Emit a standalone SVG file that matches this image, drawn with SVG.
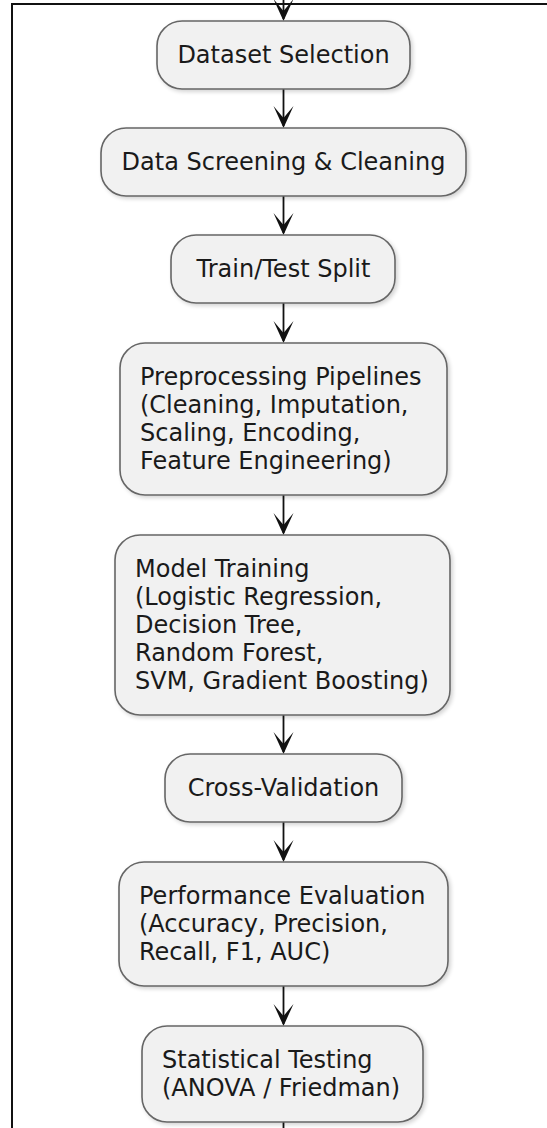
<svg xmlns="http://www.w3.org/2000/svg" width="547" height="1128" viewBox="0 0 547 1128">
<style>
.node rect{fill:#F1F1F1;stroke:#666666;stroke-width:1.6}
.node text{font-family:"DejaVu Sans","Liberation Sans",sans-serif;font-size:24px;fill:#1a1a1a}
.c{text-anchor:middle}
.edge line{stroke:#111111;stroke-width:1.8}
.frame{fill:none;stroke:#111111;stroke-width:2}
</style>
<defs>
<filter id="sh" x="-10%" y="-10%" width="125%" height="125%">
<feGaussianBlur in="SourceAlpha" stdDeviation="2"/>
<feOffset dx="2" dy="2" result="b"/>
<feComponentTransfer><feFuncA type="linear" slope="0.18"/></feComponentTransfer>
<feMerge><feMergeNode/><feMergeNode in="SourceGraphic"/></feMerge>
</filter>
<path id="ah" d="M-10,-22 L0,0 L10,-22 L0,-10 Z" fill="#111111"/>
</defs>
<rect x="0" y="0" width="547" height="1128" fill="#FFFFFF"/>
<path class="frame" d="M12,1128 V4 H547"/>
<g id="connectors" class="edge">
<line x1="283.5" y1="0" x2="283.5" y2="19"/><use href="#ah" x="283.5" y="21"/>
<line x1="283.5" y1="89" x2="283.5" y2="126"/><use href="#ah" x="283.5" y="128"/>
<line x1="283.5" y1="196" x2="283.5" y2="233"/><use href="#ah" x="283.5" y="235"/>
<line x1="283.5" y1="303" x2="283.5" y2="341"/><use href="#ah" x="283.5" y="343"/>
<line x1="283.5" y1="495" x2="283.5" y2="533"/><use href="#ah" x="283.5" y="535"/>
<line x1="283.5" y1="715" x2="283.5" y2="752"/><use href="#ah" x="283.5" y="754"/>
<line x1="283.5" y1="822" x2="283.5" y2="860"/><use href="#ah" x="283.5" y="862"/>
<line x1="283.5" y1="986" x2="283.5" y2="1024"/><use href="#ah" x="283.5" y="1026"/>
<line x1="283.5" y1="1122" x2="283.5" y2="1128"/>
</g>
<g id="n1" class="node"><rect x="157" y="21" width="253" height="68" rx="25" filter="url(#sh)"/><text class="c" x="283.5" y="63">Dataset Selection</text></g>
<g id="n2" class="node"><rect x="101" y="128" width="365" height="68" rx="25" filter="url(#sh)"/><text class="c" x="283.5" y="170">Data Screening &amp; Cleaning</text></g>
<g id="n3" class="node"><rect x="171" y="235" width="224" height="68" rx="25" filter="url(#sh)"/><text class="c" x="283.5" y="277">Train/Test Split</text></g>
<g id="n4" class="node"><rect x="120" y="343" width="327" height="152" rx="25" filter="url(#sh)"/>
<text x="140" y="385">Preprocessing Pipelines</text>
<text x="140" y="413">(Cleaning, Imputation,</text>
<text x="140" y="441">Scaling, Encoding,</text>
<text x="140" y="469">Feature Engineering)</text></g>
<g id="n5" class="node"><rect x="115" y="535" width="335" height="180" rx="25" filter="url(#sh)"/>
<text x="135" y="577">Model Training</text>
<text x="135" y="605">(Logistic Regression,</text>
<text x="135" y="633">Decision Tree,</text>
<text x="135" y="661">Random Forest,</text>
<text x="135" y="689">SVM, Gradient Boosting)</text></g>
<g id="n6" class="node"><rect x="165" y="754" width="237" height="68" rx="25" filter="url(#sh)"/><text class="c" x="283.5" y="796">Cross-Validation</text></g>
<g id="n7" class="node"><rect x="119" y="862" width="329" height="124" rx="25" filter="url(#sh)"/>
<text x="139" y="904">Performance Evaluation</text>
<text x="139" y="932">(Accuracy, Precision,</text>
<text x="139" y="960">Recall, F1, AUC)</text></g>
<g id="n8" class="node"><rect x="142" y="1026" width="281" height="96" rx="25" filter="url(#sh)"/>
<text x="162" y="1068">Statistical Testing</text>
<text x="162" y="1096">(ANOVA / Friedman)</text></g>
</svg>
